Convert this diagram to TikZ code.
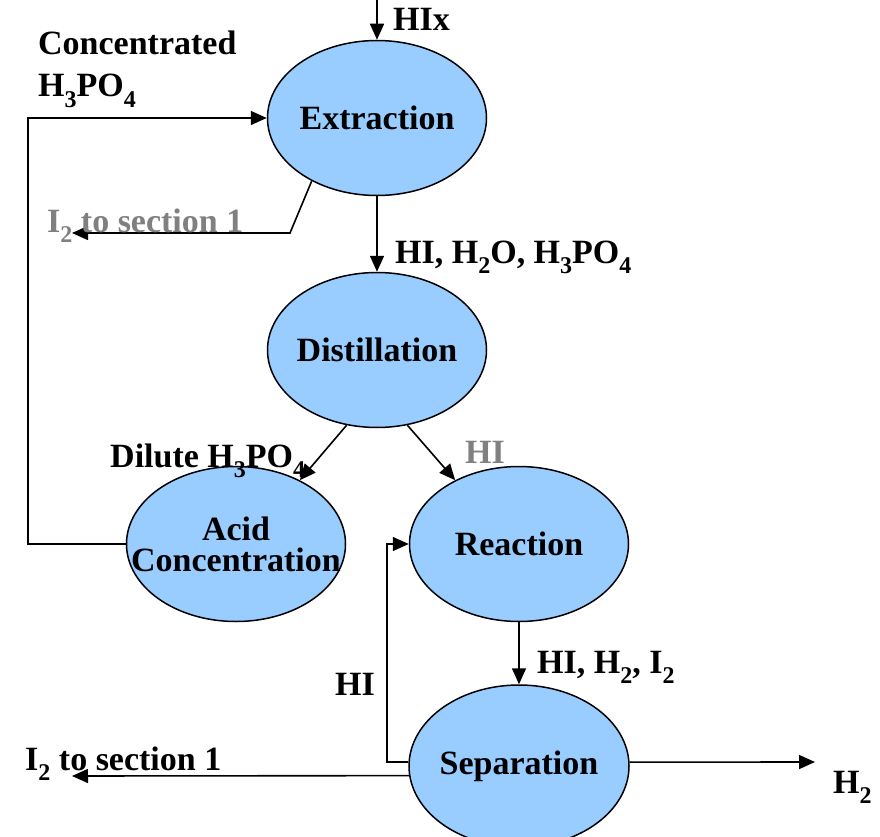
\documentclass[tikz,border=0pt]{standalone}
\usepackage{fontspec}
\setmainfont{Liberation Serif}
\usetikzlibrary{arrows.meta,shapes.geometric}
\definecolor{procblue}{HTML}{99CCFF}
\definecolor{labgrey}{HTML}{808080}
\newcommand{\sbs}[1]{\raisebox{-0.3em}{\fontsize{24}{24}\selectfont #1}}
\newcommand{\nowd}[1]{\makebox[0pt]{#1}}

\begin{document}
\begin{tikzpicture}[x=1pt,y=-1pt,
        unit/.style={draw, ellipse, fill=procblue, line width=1.5pt, minimum width=219pt, minimum height=155pt, inner sep=0pt, align=center, font=\bfseries\fontsize{34}{31}\selectfont},
        flow/.style={-{Triangle[length=16pt,width=14pt]}, line width=1.6pt},
        lab/.style={anchor=base west, inner sep=0pt, font=\bfseries\fontsize{34}{36}\selectfont},
        greylab/.style={lab, text=labgrey}
    ]
        \useasboundingbox (0,0) rectangle (880,837);

        % Process units
        \node[unit] (ext) at (377,118) {\nowd{Extraction}};
        \node[unit] (dis) at (377,350) {\nowd{Distillation}};
        \node[unit] (acid) at (236,544) {\nowd{Acid}\\\nowd{Concentration}};
        \node[unit] (rea) at (519,544) {\nowd{Reaction}};
        \node[unit, minimum width=220pt, minimum height=162pt] (sep) at (519,766) {\nowd{Separation}};

        % Free ends
        \coordinate (feed) at (377,0);
        \coordinate (loopx) at (28,0);
        \coordinate (kink) at (290,233);
        \coordinate (iout1) at (72,233);
        \coordinate (hix) at (387,0);
        \coordinate (iout2) at (72,776);
        \coordinate (hout) at (815,762);

        % Streams
        \draw[flow] (feed) -- (ext.north);
        \draw[flow] (acid.west) -| (loopx |- ext.west) -- (ext.west);
        \draw[flow] (ext.-136) -- (kink) -- (iout1);
        \draw[flow] (ext.south) -- (dis.north);
        \draw[flow] (dis.-112) -- (acid.45);
        \draw[flow] (dis.-68) -- (rea.135);
        \draw[flow] (rea.south) -- (sep.north);
        \draw[flow] (sep.178) -| (hix |- rea.west) -- (rea.west);
        \draw[flow] (sep.185) -- (iout2);
        \draw[flow] (sep.2) -- (hout);

        % Stream labels
        \node[lab] (lhix) at (393,31) {HIx};
        \node[lab] (lconc) at (38,55) {Concentrated};
        \node[lab] (lconcb) at (38,97) {H\sbs{3}PO\sbs{4}};
        \node[greylab] (li1) at (47,232) {I\sbs{2} to section 1};
        \node[lab] (lmix) at (395,263) {HI, H\sbs{2}O, H\sbs{3}PO\sbs{4}};
        \node[lab] (ldil) at (110,467) {Dilute H\sbs{3}PO\sbs{4}};
        \node[greylab] (lhi) at (465,463) {HI};
        \node[lab] (lprod) at (537,673) {HI, H\sbs{2}, I\sbs{2}};
        \node[lab] (lrec) at (335,695) {HI};
        \node[lab] (li2) at (25,770) {I\sbs{2} to section 1};
        \node[lab] (lh2) at (833,793) {H\sbs{2}};
    \end{tikzpicture}
\end{document}
